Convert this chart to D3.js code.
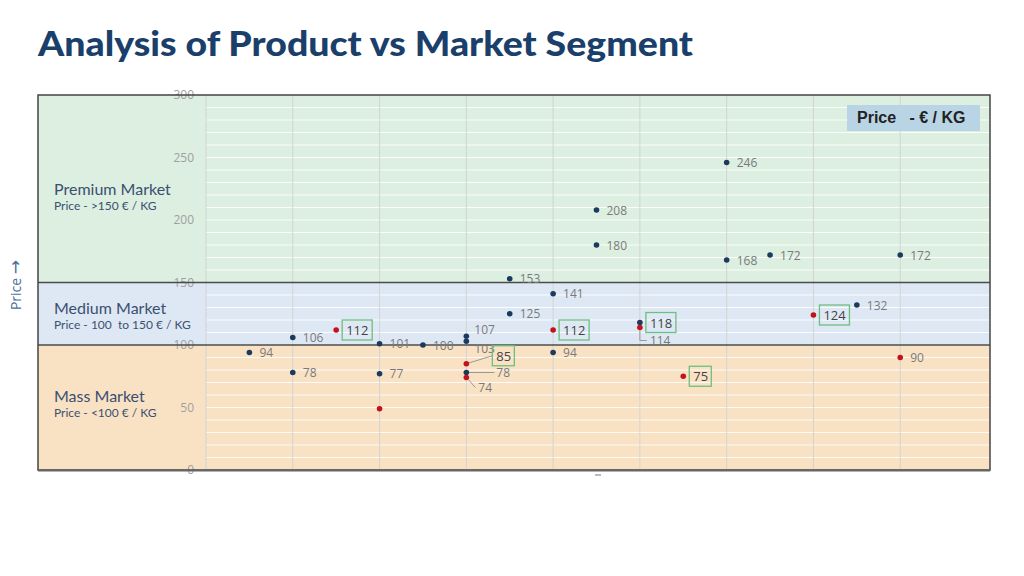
<!DOCTYPE html>
<html>
<head>
<meta charset="utf-8">
<script src="https://cdn.jsdelivr.net/npm/d3@7"></script>
<style>
  body { margin: 0; background: #fff; }
  text { white-space: pre; }
</style>
</head>
<body>
<svg id="chart" width="1024" height="576"></svg>
<script>
// blue points (product)
const blueX = [0.5, 1, 1, 2, 2, 2.5, 3, 3, 3, 3.5, 3.5, 4, 4, 4.5, 4.5, 5, 6, 6, 6.5, 7.5, 8];
const blueY = [94, 106, 78, 101, 77, 100, 107, 103, 78, 153, 125, 141, 94, 208, 180, 118, 246, 168, 172, 132, 172];
// red points (market)
const redX = [1.5, 2, 3, 3, 4, 5, 5.5, 7, 8];
const redY = [112, 49, 85, 74, 112, 114, 75, 124, 90];
const redLabels = ["112", "", "85", "74", "112", "114", "75", "124", "90"];

const bandNames = ["Premium Market", "Medium Market", "Mass Market"];
const bandSubs = ["Price - >150 € / KG", "Price - 100  to 150 € / KG", "Price - <100 € / KG"];
const bandLimits = [[150, 300], [100, 150], [0, 100]];
const yTicks = [0, 50, 100, 150, 200, 250, 300];

const svg = d3.select("#chart");
const FRAME = {left: 38, right: 990, top: 95, bottom: 470};
const PLOT_LEFT = 206;

const x = d3.scaleLinear().domain([0, 9]).range([PLOT_LEFT, 987]);
const y = d3.scaleLinear().domain([0, 300]).range([FRAME.bottom, FRAME.top]);

const bandFill = ["#dcefe1", "#dee8f4", "#f9e2c4"];

// title
svg.append("text")
  .attr("x", 38).attr("y", 56)
  .attr("font-family", "Lato").attr("font-weight", 900).attr("font-size", 34)
  .attr("textLength", 655).attr("lengthAdjust", "spacingAndGlyphs")
  .attr("fill", "#1b3f6b")
  .text("Analysis of Product vs Market Segment");

// bands
svg.selectAll(".band").data(bandLimits).enter().append("rect")
  .attr("x", FRAME.left).attr("width", FRAME.right - FRAME.left)
  .attr("y", d => y(d[1])).attr("height", d => y(d[0]) - y(d[1]))
  .attr("fill", (d, i) => bandFill[i]);

// minor white lines every 10
svg.append("g").selectAll("line").data(d3.range(10, 300, 10)).enter().append("line")
  .attr("x1", PLOT_LEFT).attr("x2", FRAME.right)
  .attr("y1", d => y(d)).attr("y2", d => y(d))
  .attr("stroke", "#fff").attr("stroke-opacity", 0.85).attr("stroke-width", 1);

// vertical grid
svg.append("g").selectAll("line").data(d3.range(0, 9)).enter().append("line")
  .attr("x1", d => x(d)).attr("x2", d => x(d))
  .attr("y1", FRAME.top).attr("y2", FRAME.bottom)
  .attr("stroke", "#d2d4d2").attr("stroke-width", 1);

// y axis labels
const yAxis = d3.axisLeft(y).tickValues(yTicks).tickSize(0).tickPadding(0);
const gy = svg.append("g").attr("transform", `translate(${PLOT_LEFT - 12},0)`).call(yAxis);
gy.select(".domain").remove();
gy.selectAll("text")
  .attr("font-family", "Open Sans").attr("font-size", 12).attr("fill", "#a0a0a0");

// band borders
svg.append("g").selectAll("line").data([100, 150]).enter().append("line")
  .attr("x1", FRAME.left).attr("x2", FRAME.right)
  .attr("y1", d => y(d)).attr("y2", d => y(d))
  .attr("stroke", "#4a4a4a").attr("stroke-width", 1.5);

svg.append("rect")
  .attr("x", FRAME.left).attr("y", FRAME.top)
  .attr("width", FRAME.right - FRAME.left).attr("height", FRAME.bottom - FRAME.top)
  .attr("fill", "none").attr("stroke", "#444").attr("stroke-width", 1.5);
svg.append("line")
  .attr("x1", FRAME.left).attr("x2", FRAME.right)
  .attr("y1", FRAME.bottom + 0.5).attr("y2", FRAME.bottom + 0.5)
  .attr("stroke", "#666").attr("stroke-width", 2);

// band names
const bandLabelY = [195, 314, 402];
bandNames.forEach((n, i) => {
  svg.append("text").attr("x", 54).attr("y", bandLabelY[i])
    .attr("font-family", "Lato").attr("font-size", 16).attr("fill", "#3b5070").text(n);
  svg.append("text").attr("x", 54).attr("y", bandLabelY[i] + 15)
    .attr("font-family", "Lato").attr("font-size", 12).attr("fill", "#3b5070").text(bandSubs[i]);
});

// y title
const yt = svg.append("text")
  .attr("transform", "translate(21,285) rotate(-90)")
  .attr("text-anchor", "middle")
  .attr("font-family", "Open Sans").attr("font-size", 14).attr("fill", "#4d6f96");
yt.append("tspan").text("Price ");
yt.append("tspan").attr("font-family", "DejaVu Sans").attr("font-size", 17).text("→");

// x title placeholder
svg.append("rect").attr("x", 595).attr("y", 474).attr("width", 6).attr("height", 2).attr("fill", "#bbb");

// legend box
svg.append("rect").attr("x", 847).attr("y", 105).attr("width", 133).attr("height", 26).attr("fill", "#b9d4e4");
svg.append("text").attr("x", 857).attr("y", 123)
  .attr("font-family", "Liberation Sans").attr("font-weight", 700).attr("font-size", 16).attr("fill", "#222")
  .text("Price   - € / KG");

// points
const blue = blueX.map((d, i) => ({x: d, y: blueY[i], label: String(blueY[i]), c: "#1b3a5e"}));
const red = redX.map((d, i) => ({x: d, y: redY[i], label: redLabels[i], c: "#c3121c"}));

// special label treatments (by series/index)
const special = {
  "b6": {dx: 8, dy: -7},
  "b7": {dx: 8, dy: 7},
  "b8": {dx: 30, dy: 0, leader: "h"},
  "b15": {box: true},
  "r0": {box: true},
  "r2": {box: true, dx: 28, dy: -8, leader: "d"},
  "r3": {dx: 12, dy: 10, leader: "l"},
  "r4": {box: true},
  "r5": {dx: 10, dy: 13, leader: "v"},
  "r6": {box: true},
  "r7": {box: true}
};

const labelFont = "Open Sans";
function drawPoints(arr, key) {
  const g = svg.append("g");
  arr.forEach((d, i) => {
    const s = special[key + i] || {};
    const px = x(d.x), py = y(d.y);
    if (d.label) {
      const dx = s.dx !== undefined ? s.dx : (s.box ? 8 : 10);
      const dy = s.dy !== undefined ? s.dy : 0;
      const lx = px + dx, ly = py + dy;
      if (s.leader === "h") {
        g.append("line").attr("x1", px).attr("x2", lx - 2).attr("y1", py).attr("y2", py)
          .attr("stroke", "#999").attr("stroke-width", 1);
      } else if (s.leader === "d") {
        g.append("line").attr("x1", px).attr("y1", py).attr("x2", lx - 2).attr("y2", ly)
          .attr("stroke", "#999").attr("stroke-width", 1);
      } else if (s.leader === "l") {
        g.append("path").attr("d", `M${px + 2},${py + 2} L${lx - 3},${ly}`)
          .attr("fill", "none").attr("stroke", "#999").attr("stroke-width", 1);
      } else if (s.leader === "v") {
        g.append("path").attr("d", `M${px},${py + 3} V${ly} H${lx - 3}`)
          .attr("fill", "none").attr("stroke", "#999").attr("stroke-width", 1);
      }
      if (s.box) {
        const w = d.label.length * 8 + 4;
        g.append("rect").attr("x", lx - 2).attr("y", ly - 10).attr("width", w + 2).attr("height", 20)
          .attr("fill", "none").attr("stroke", "#6dbf7d").attr("stroke-width", 1.3);
        g.append("text").attr("x", lx + 2).attr("y", ly + 5)
          .attr("font-family", labelFont).attr("font-size", 13).attr("fill", "#444").text(d.label);
      } else {
        g.append("text").attr("x", lx).attr("y", ly + 4.5)
          .attr("font-family", labelFont).attr("font-size", 12).attr("fill", "#7a7a7a").text(d.label);
      }
    }
    g.append("circle").attr("cx", px).attr("cy", py).attr("r", 2.8).attr("fill", d.c);
  });
}
drawPoints(blue, "b");
drawPoints(red, "r");
</script>
</body>
</html>
